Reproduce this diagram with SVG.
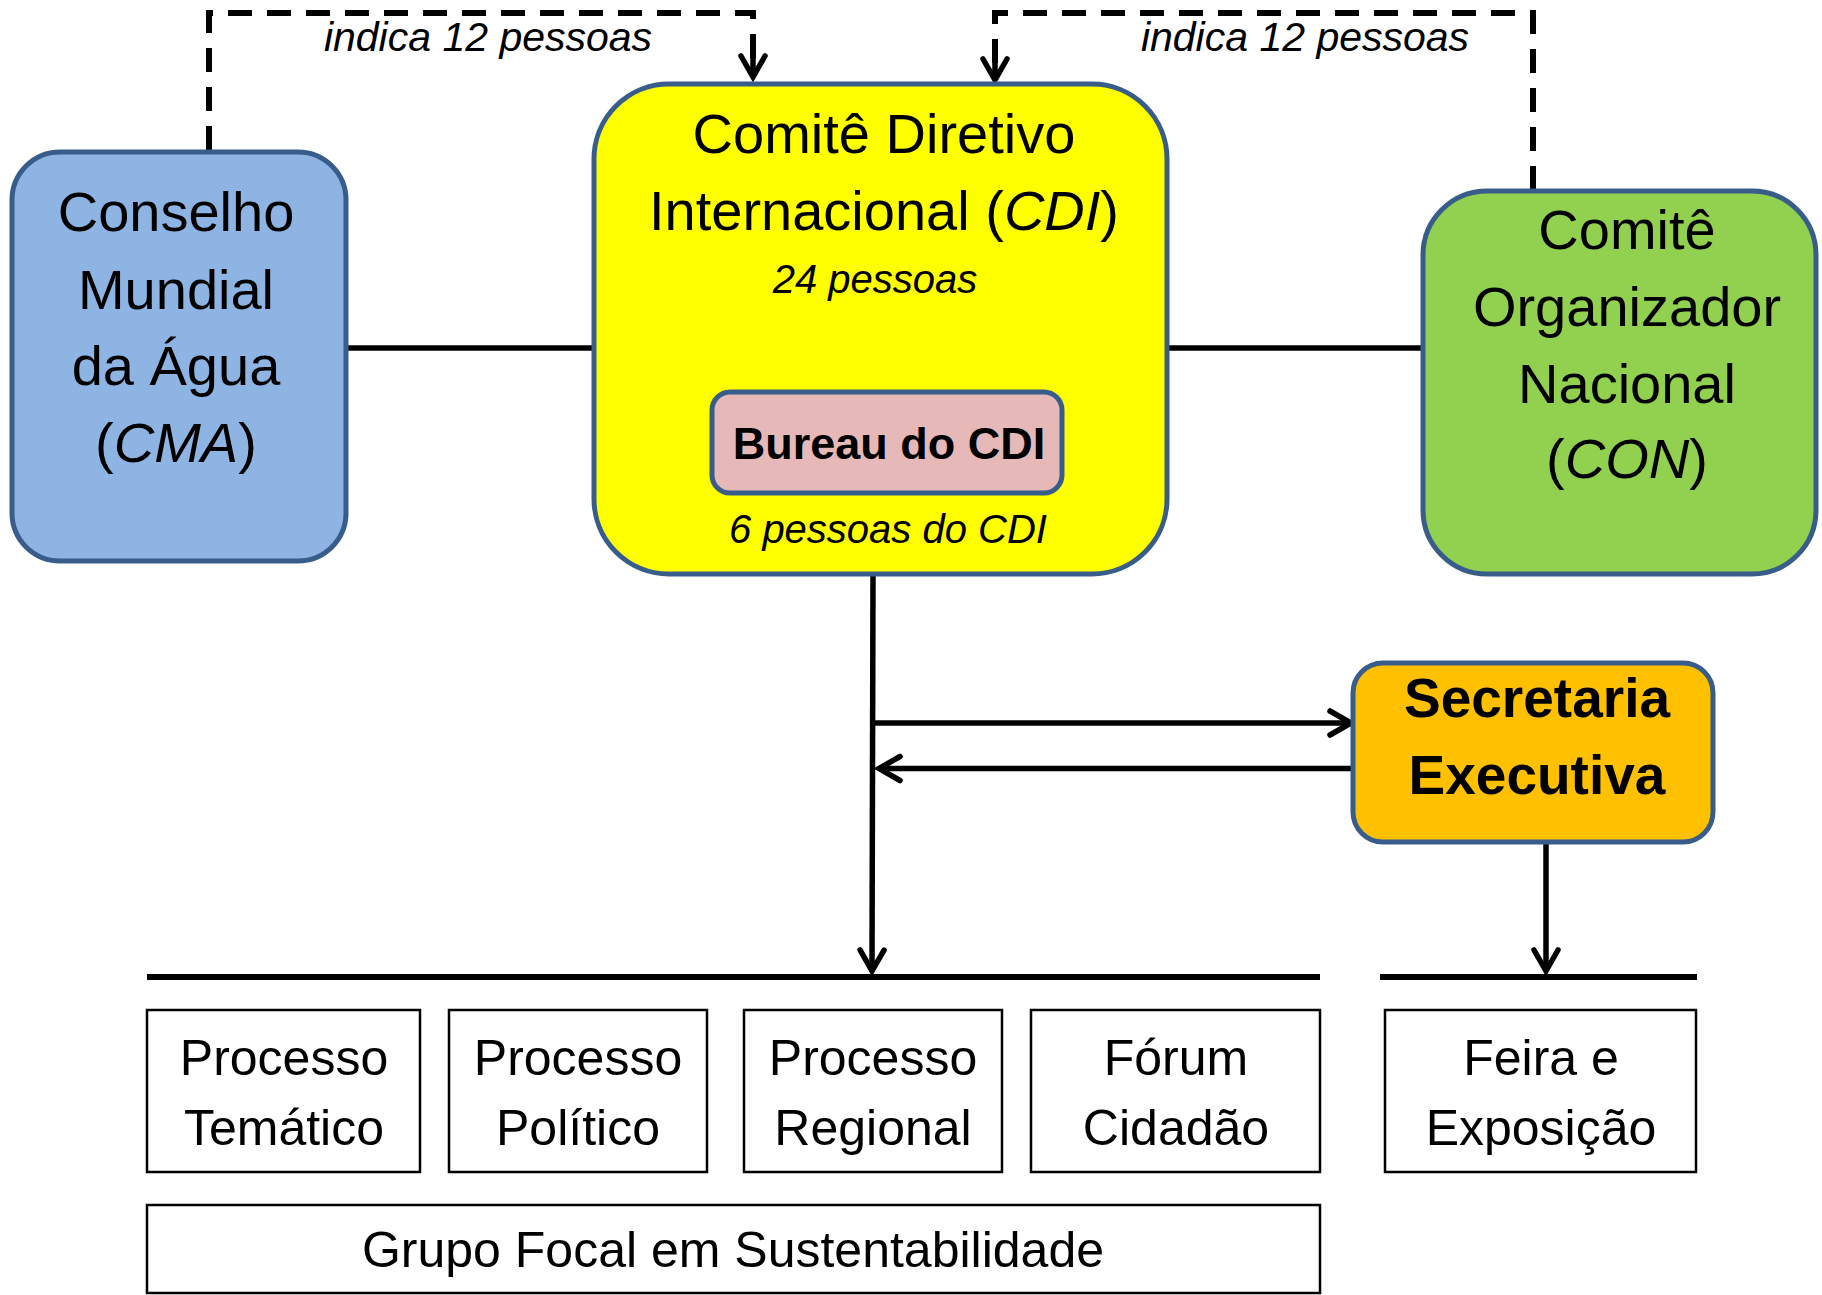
<svg xmlns="http://www.w3.org/2000/svg" width="1822" height="1295" viewBox="0 0 1822 1295">
<style>
text{font-family:"Liberation Sans",Arial,sans-serif;fill:#000;text-anchor:middle}
.big{font-size:56px}
.mid{font-size:50px}
.it{font-size:40px;font-style:italic}
.lab{font-size:41px;font-style:italic}
.b{font-weight:bold}
.node{stroke:#385D8A;stroke-width:5}
.plain{fill:#fff;stroke:#000;stroke-width:2.5}
.ln{fill:none;stroke:#000;stroke-width:5.5}
.dash{fill:none;stroke:#000;stroke-width:6;stroke-dasharray:24 15}
.bar{stroke:#000;stroke-width:6}
</style>
<defs>
<marker id="arr" markerUnits="userSpaceOnUse" markerWidth="60" markerHeight="60" viewBox="-40 -30 60 60" refX="0" refY="0" orient="auto" overflow="visible">
<path d="M-21,-12 L0,0 L-21,12" fill="none" stroke="#000" stroke-width="5.5" stroke-linecap="round" stroke-linejoin="miter"/>
</marker>
<marker id="darr" markerUnits="userSpaceOnUse" markerWidth="60" markerHeight="60" viewBox="-40 -30 60 60" refX="0" refY="0" orient="auto" overflow="visible">
<path d="M-27,0 L0,0" fill="none" stroke="#000" stroke-width="5.5"/>
<path d="M-21,-12 L0,0 L-21,12" fill="none" stroke="#000" stroke-width="5.5" stroke-linecap="round"/>
</marker>
</defs>

<g id="connectors">
<path class="dash" d="M209,150 V13 H753 V77" marker-end="url(#darr)"/>
<path class="dash" d="M1533,190 V13 H995 V80" marker-end="url(#darr)"/>
<line class="ln" x1="346" y1="348" x2="594" y2="348"/>
<line class="ln" x1="1167" y1="348" x2="1422" y2="348"/>
<path class="ln" d="M873,574 L872,971" marker-end="url(#arr)"/>
<line class="ln" x1="874" y1="723" x2="1351" y2="723" marker-end="url(#arr)"/>
<line class="ln" x1="1353" y1="768.5" x2="879" y2="768.5" marker-end="url(#arr)"/>
<line class="ln" x1="1546" y1="843" x2="1546" y2="971" marker-end="url(#arr)"/>
<line class="bar" x1="147" y1="977" x2="1320" y2="977"/>
<line class="bar" x1="1380" y1="977" x2="1697" y2="977"/>
<text class="lab" x="488" y="51">indica 12 pessoas</text>
<text class="lab" x="1305" y="51">indica 12 pessoas</text>
</g>

<g id="cma">
<rect class="node" x="12" y="152" width="334" height="409" rx="48" fill="#8EB4E3"/>
<text class="big" x="176" y="231">Conselho</text>
<text class="big" x="176" y="309">Mundial</text>
<text class="big" x="176" y="385">da Água</text>
<text class="big" x="176" y="462">(<tspan font-style="italic">CMA</tspan>)</text>
</g>

<g id="cdi">
<rect class="node" x="594" y="84" width="573" height="490" rx="75" fill="#FFFF00"/>
<text class="big" x="884" y="153">Comitê Diretivo</text>
<text class="big" x="884" y="230">Internacional (<tspan font-style="italic">CDI</tspan>)</text>
<text class="it" x="875" y="293">24 pessoas</text>
<text class="it" x="888" y="543">6 pessoas do CDI</text>
</g>

<g id="bureau">
<rect class="node" x="712" y="392" width="350" height="101" rx="18" fill="#E6B9B8"/>
<text class="b" font-size="45" x="889" y="459">Bureau do CDI</text>
</g>

<g id="con">
<rect class="node" x="1423" y="191" width="393" height="383" rx="64" fill="#92D050"/>
<text class="big" x="1627" y="249">Comitê</text>
<text class="big" x="1627" y="326">Organizador</text>
<text class="big" x="1627" y="403">Nacional</text>
<text class="big" x="1627" y="478">(<tspan font-style="italic">CON</tspan>)</text>
</g>

<g id="secretaria">
<rect class="node" x="1353" y="663" width="360" height="179" rx="30" fill="#FFC000"/>
<text class="b" font-size="55" x="1537" y="717">Secretaria</text>
<text class="b" font-size="55" x="1537" y="794">Executiva</text>
</g>

<g id="tematico">
<rect class="plain" x="147" y="1010" width="273" height="162"/>
<text class="mid" x="284" y="1075">Processo</text>
<text class="mid" x="284" y="1145">Temático</text>
</g>

<g id="politico">
<rect class="plain" x="449" y="1010" width="258" height="162"/>
<text class="mid" x="578" y="1075">Processo</text>
<text class="mid" x="578" y="1145">Político</text>
</g>

<g id="regional">
<rect class="plain" x="744" y="1010" width="258" height="162"/>
<text class="mid" x="873" y="1075">Processo</text>
<text class="mid" x="873" y="1145">Regional</text>
</g>

<g id="forum">
<rect class="plain" x="1031" y="1010" width="289" height="162"/>
<text class="mid" x="1176" y="1075">Fórum</text>
<text class="mid" x="1176" y="1145">Cidadão</text>
</g>

<g id="feira">
<rect class="plain" x="1385" y="1010" width="311" height="162"/>
<text class="mid" x="1541" y="1075">Feira e</text>
<text class="mid" x="1541" y="1145">Exposição</text>
</g>

<g id="grupo">
<rect class="plain" x="147" y="1205" width="1173" height="88"/>
<text class="mid" x="733" y="1267">Grupo Focal em Sustentabilidade</text>
</g>
</svg>
